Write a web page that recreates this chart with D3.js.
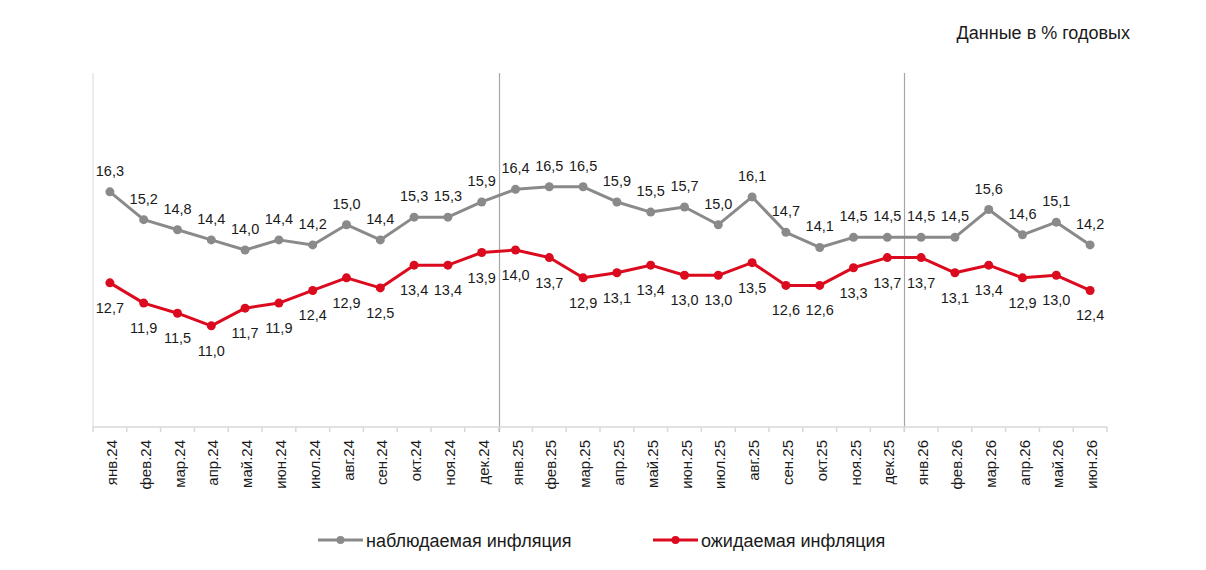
<!DOCTYPE html>
<html>
<head>
<meta charset="utf-8">
<script src="https://cdn.jsdelivr.net/npm/d3@7"></script>
<style>
  body { margin: 0; background: #fff; }
  text { font-family: "Liberation Sans", Arial, sans-serif; fill: #1a1a1a; }
</style>
</head>
<body>
<div id="chart-area"><svg></svg></div>
<script>
const months = ['янв.24', 'фев.24', 'мар.24', 'апр.24', 'май.24', 'июн.24', 'июл.24', 'авг.24', 'сен.24', 'окт.24', 'ноя.24', 'дек.24',
    'янв.25', 'фев.25', 'мар.25', 'апр.25', 'май.25', 'июн.25', 'июл.25', 'авг.25', 'сен.25', 'окт.25', 'ноя.25', 'дек.25',
    'янв.26', 'фев.26', 'мар.26', 'апр.26', 'май.26', 'июн.26'];
const observed = [16.3, 15.2, 14.8, 14.4, 14.0, 14.4, 14.2, 15.0, 14.4, 15.3, 15.3, 15.9,
    16.4, 16.5, 16.5, 15.9, 15.5, 15.7, 15.0, 16.1, 14.7, 14.1, 14.5, 14.5,
    14.5, 14.5, 15.6, 14.6, 15.1, 14.2];
const expected = [12.7, 11.9, 11.5, 11.0, 11.7, 11.9, 12.4, 12.9, 12.5, 13.4, 13.4, 13.9,
    14.0, 13.7, 12.9, 13.1, 13.4, 13.0, 13.0, 13.5, 12.6, 12.6, 13.3, 13.7,
    13.7, 13.1, 13.4, 12.9, 13.0, 12.4];
const yearStarts = ['янв.25', 'янв.26'];
const seriesNames = ['наблюдаемая инфляция', 'ожидаемая инфляция'];

const chartSize = { width: 1206, height: 570 };
const plot = { left: 93, right: 1107, top: 73, bottom: 427 };
const grey = '#8a8a8a';
const red = '#dc0a1e';

const fmt = v => v.toFixed(1).replace('.', ',');

const svg = d3.select('#chart-area svg')
    .attr('width', chartSize.width)
    .attr('height', chartSize.height);

const x = d3.scaleBand()
    .domain(months)
    .range([plot.left, plot.right]);

const y = d3.scaleLinear()
    .domain([7, 21])
    .range([plot.bottom, plot.top]);

// axis line on the left
svg.append('line')
    .attr('x1', plot.left).attr('x2', plot.left)
    .attr('y1', plot.top).attr('y2', plot.bottom)
    .attr('stroke', '#d9d9d9').attr('stroke-width', 1);

// year separators
svg.selectAll('.sep')
    .data(yearStarts)
    .enter()
    .append('line')
    .attr('class', 'sep')
    .attr('x1', d => Math.round(x(d)) + 0.5)
    .attr('x2', d => Math.round(x(d)) + 0.5)
    .attr('y1', plot.top)
    .attr('y2', plot.bottom + 5)
    .attr('stroke', '#a6a6a6')
    .attr('stroke-width', 1.2);

// bottom axis
const xAxis = svg.append('g')
    .attr('transform', `translate(0,${plot.bottom})`);

xAxis.append('line')
    .attr('x1', plot.left).attr('x2', plot.right)
    .attr('stroke', '#d9d9d9').attr('stroke-width', 1.5);

xAxis.selectAll('.tick-mark')
    .data(months.concat(['end']))
    .enter()
    .append('line')
    .attr('x1', (d, i) => plot.left + i * x.bandwidth())
    .attr('x2', (d, i) => plot.left + i * x.bandwidth())
    .attr('y1', 0).attr('y2', 5)
    .attr('stroke', '#d9d9d9').attr('stroke-width', 1.5);

xAxis.selectAll('.month')
    .data(months)
    .enter()
    .append('text')
    .attr('class', 'month')
    .attr('transform', d => `translate(${x(d) + x.bandwidth() / 2 + 7},13) rotate(-90)`)
    .attr('text-anchor', 'end')
    .style('font-size', '15px')
    .text(d => d);

// lines and markers
const drawSeries = (values, color, labelDy) => {
    const line = d3.line()
        .x((d, i) => x(months[i]) + x.bandwidth() / 2)
        .y(d => y(d));

    svg.append('path')
        .datum(values)
        .attr('fill', 'none')
        .attr('stroke', color)
        .attr('stroke-width', 3)
        .attr('stroke-linejoin', 'round')
        .attr('d', line);

    svg.append('g').selectAll('circle')
        .data(values)
        .enter()
        .append('circle')
        .attr('cx', (d, i) => x(months[i]) + x.bandwidth() / 2)
        .attr('cy', d => y(d))
        .attr('r', 4.5)
        .attr('fill', color);

    svg.append('g').selectAll('text')
        .data(values)
        .enter()
        .append('text')
        .attr('x', (d, i) => x(months[i]) + x.bandwidth() / 2)
        .attr('y', d => y(d) + labelDy)
        .attr('text-anchor', 'middle')
        .style('font-size', '14.5px')
        .text(fmt);
};

drawSeries(observed, grey, -16);
drawSeries(expected, red, 30);

// title
svg.append('text')
    .attr('x', 1130)
    .attr('y', 39)
    .attr('text-anchor', 'end')
    .style('font-size', '18px')
    .text('Данные в % годовых');

// legend
const legend = svg.append('g')
    .selectAll('g')
    .data(seriesNames)
    .enter()
    .append('g')
    .attr('transform', (d, i) => `translate(${i == 0 ? 318 : 653},540)`);

legend.append('line')
    .attr('x1', 0).attr('x2', 45)
    .attr('stroke', (d, i) => i == 0 ? grey : red)
    .attr('stroke-width', 3);

legend.append('circle')
    .attr('cx', 22.5)
    .attr('r', 4)
    .attr('fill', (d, i) => i == 0 ? grey : red);

legend.append('text')
    .attr('x', 48)
    .attr('y', 6.5)
    .style('font-size', '18px')
    .text(d => d);
</script>
</body>
</html>
